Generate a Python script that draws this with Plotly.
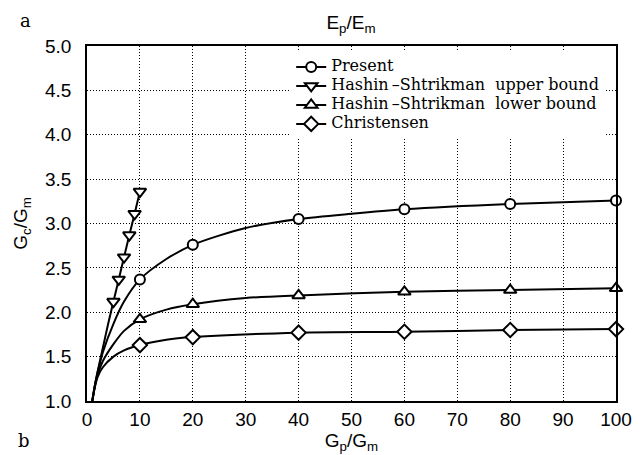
import plotly.graph_objects as go

# ---- data ----
# marker points
x_marks = [10, 20, 40, 60, 80, 100]
present_marks = [2.37, 2.76, 3.05, 3.16, 3.22, 3.26]
hs_lower_marks = [1.92, 2.09, 2.19, 2.23, 2.25, 2.27]
christensen_marks = [1.63, 1.72, 1.77, 1.78, 1.80, 1.81]
hs_upper_x = [5, 6, 7, 8, 9, 10]
hs_upper_marks = [2.12, 2.37, 2.62, 2.87, 3.11, 3.36]

# curve points
present_cx = [1, 1.5, 2, 3, 5, 7, 10, 15, 20, 30, 40, 50, 60, 80, 100]
present_cy = [1.0, 1.18, 1.32, 1.55, 1.87, 2.12, 2.37, 2.60, 2.76, 2.95, 3.05, 3.11, 3.16, 3.22, 3.26]
hs_lower_cx = [1, 1.5, 2, 3, 5, 7, 10, 15, 20, 30, 40, 60, 80, 100]
hs_lower_cy = [1.0, 1.17, 1.29, 1.45, 1.64, 1.79, 1.92, 2.03, 2.09, 2.16, 2.19, 2.23, 2.25, 2.27]
christensen_cx = [1, 1.5, 2, 3, 5, 7, 10, 15, 20, 40, 60, 80, 100]
christensen_cy = [1.0, 1.16, 1.27, 1.38, 1.50, 1.57, 1.63, 1.69, 1.72, 1.77, 1.78, 1.80, 1.81]
hs_upper_cx = [1, 1.5, 2, 3, 4, 5, 6, 7, 8, 9, 10]
hs_upper_cy = [1.0, 1.18, 1.33, 1.60, 1.87, 2.12, 2.37, 2.62, 2.87, 3.11, 3.36]

x_ticks = [0, 10, 20, 30, 40, 50, 60, 70, 80, 90, 100]
y_ticks = [1.0, 1.5, 2.0, 2.5, 3.0, 3.5, 4.0, 4.5, 5.0]

legend_names = [
    "Present",
    "Hashin\u2009\u2013Shtrikman&nbsp;&nbsp;upper bound",
    "Hashin\u2009\u2013Shtrikman&nbsp;&nbsp;lower bound",
    "Christensen",
]

series = [
    (legend_names[0], present_cx, present_cy, x_marks, present_marks, "circle", 10),
    (legend_names[1], hs_upper_cx, hs_upper_cy, hs_upper_x, hs_upper_marks, "triangle-down", 11),
    (legend_names[2], hs_lower_cx, hs_lower_cy, x_marks, hs_lower_marks, "triangle-up", 11),
    (legend_names[3], christensen_cx, christensen_cy, x_marks, christensen_marks, "diamond", 11),
]

SANS = "Liberation Sans, Arial"
SERIF = "DejaVu Serif, Liberation Serif, serif"
fig = go.Figure()
for name, cx, cy, mx, my, sym, sz in series:
    fig.add_trace(go.Scatter(x=cx, y=cy, mode="lines", line=dict(color="black", width=2, shape="spline", smoothing=0.8),
                             showlegend=False, hoverinfo="skip", cliponaxis=False))
    fig.add_trace(go.Scatter(x=mx, y=my, mode="markers", showlegend=False, cliponaxis=False,
                             marker=dict(symbol=sym, size=sz, color="white", line=dict(color="black", width=2))))
    fig.add_trace(go.Scatter(x=[None], y=[None], mode="lines+markers",
                             name=f"<span style='font-size:16px'>{name}</span>",
                             line=dict(color="black", width=2),
                             marker=dict(symbol=sym, size=sz, color="white", line=dict(color="black", width=2))))

axis_common = dict(
    showline=True, linecolor="black", linewidth=1.5, mirror=True,
    showgrid=True, gridcolor="black", gridwidth=1, griddash="1px,2px",
    zeroline=False, ticks="", tickfont=dict(family=SANS, size=19, color="black"),
)

fig.update_layout(
    width=644, height=455,
    margin=dict(l=87, r=16, t=46, b=49),
    paper_bgcolor="white", plot_bgcolor="white",
    xaxis=dict(range=[0, 100], tickvals=x_ticks, ticktext=[str(v) for v in x_ticks],
               title=dict(text="G<sub>p</sub>/G<sub>m</sub>", font=dict(family=SANS, size=19, color="black"), standoff=0),
               **axis_common),
    yaxis=dict(range=[1, 5], tickvals=y_ticks, ticktext=[f"{v:.1f}" for v in y_ticks],
               ticklabelstandoff=10,
               title=dict(text="G<sub>c</sub>/G<sub>m</sub>", font=dict(family=SANS, size=19, color="black"), standoff=12),
               **axis_common),
    title=dict(text="E<sub>p</sub>/E<sub>m</sub>", x=0.545, xanchor="center", y=0.95, yanchor="middle",
               font=dict(family=SANS, size=19, color="black")),
    legend=dict(x=0.386, xanchor="left", y=0.982, yanchor="top", bgcolor="white",
                font=dict(family=SERIF, size=11, color="black"),
                tracegroupgap=0, itemwidth=30),
    showlegend=True,
)

fig.add_annotation(text="a", x=-0.117, y=1.072, xref="paper", yref="paper", xanchor="center", yanchor="middle",
                   showarrow=False, font=dict(family=SERIF, size=18, color="black"))
fig.add_annotation(text="b", x=-0.12, y=-0.11, xref="paper", yref="paper", xanchor="center", yanchor="middle",
                   showarrow=False, font=dict(family=SERIF, size=18, color="black"))

fig.write_html("out.html")
